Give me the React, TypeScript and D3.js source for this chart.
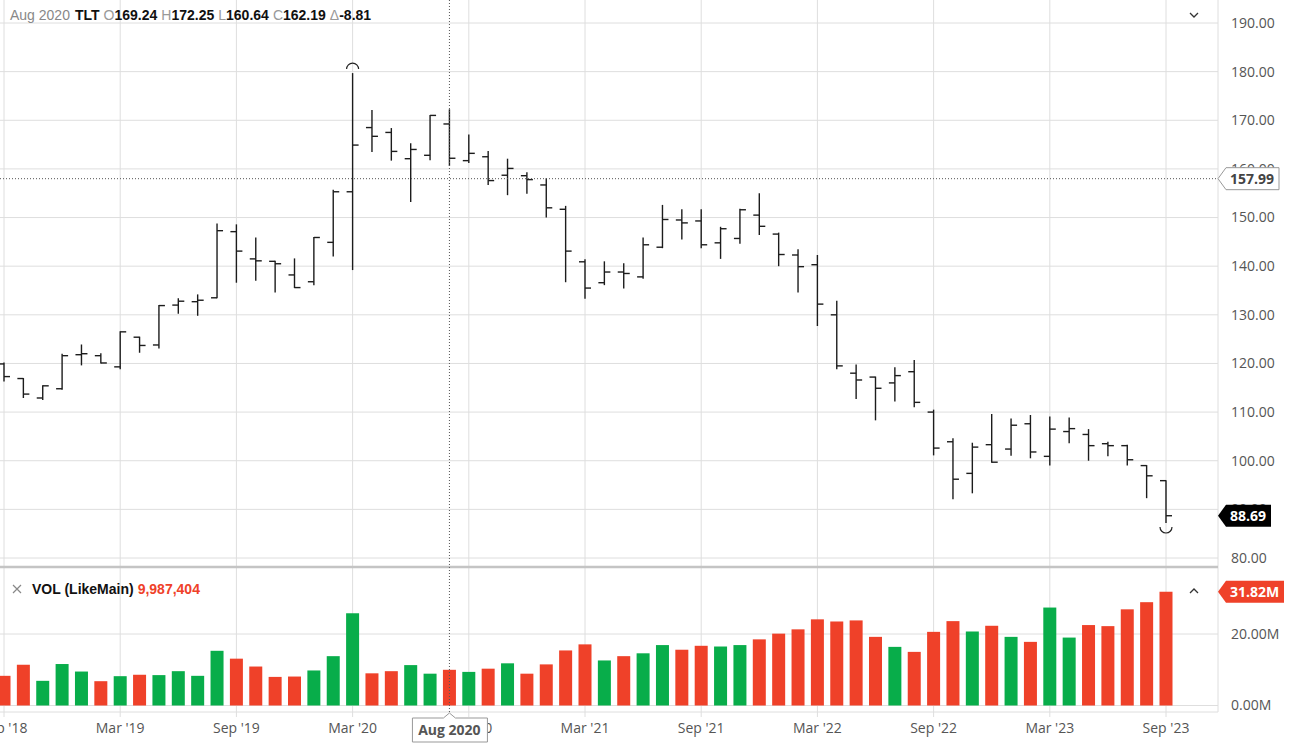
import * as d3 from 'd3';

// Monthly bars, Sep 2018 .. Sep 2023
const months = d3.timeMonths(new Date(2018, 8, 1), new Date(2023, 9, 1));

const opens = [
  119.9, 116.9, 112.9, 114.8, 121.8, 121.6, 119.3, 125.4, 123.8, 132.0, 132.7, 133.5,
  147.1, 141.5, 141.0, 138.2, 136.8, 144.9, 155.3, 168.5, 167.5, 162.1, 162.8, 169.24,
  161.7, 162.5, 158.7, 158.6, 156.7, 151.7, 140.9, 136.6, 138.8, 137.8, 143.9, 149.5,
  149.3, 144.8, 145.7, 150.5, 146.6, 142.3, 140.3, 130.0, 118.0, 117.2, 116.0, 118.3,
  110.0, 103.9, 97.4, 103.3, 102.4, 107.6, 100.9, 106.0, 105.4, 103.5, 103.1, 99.0, 95.9,
];
const highs = [
  120.2, 117.0, 115.5, 122.0, 123.9, 122.1, 126.6, 125.5, 132.0, 133.4, 134.2, 148.8,
  148.6, 145.9, 141.1, 141.6, 146.0, 155.7, 179.7, 172.1, 168.4, 165.3, 171.1, 172.25,
  167.1, 163.7, 162.1, 159.3, 158.1, 152.4, 141.4, 141.0, 140.6, 145.9, 152.6, 151.7,
  151.7, 148.1, 151.8, 155.0, 146.9, 143.5, 142.3, 132.9, 119.8, 117.3, 119.2, 120.7,
  110.5, 104.6, 103.7, 109.6, 108.7, 109.4, 109.1, 108.9, 106.5, 103.9, 103.3, 99.1, 96.0,
];
const lows = [
  116.3, 112.9, 112.5, 114.6, 119.6, 120.0, 118.8, 122.2, 123.1, 130.2, 129.8, 133.4,
  136.6, 137.0, 134.6, 135.5, 136.1, 142.0, 139.2, 163.5, 161.7, 153.2, 161.8, 160.64,
  161.2, 156.7, 154.6, 154.9, 150.0, 136.7, 133.3, 136.1, 135.4, 137.4, 143.7, 145.5,
  143.7, 141.5, 144.6, 146.4, 140.0, 134.6, 127.7, 118.8, 112.7, 108.3, 112.2, 111.0,
  101.1, 92.1, 93.3, 99.6, 101.0, 100.5, 99.0, 103.6, 100.0, 100.9, 99.0, 92.3, 87.2,
];
const closes = [
  117.3, 113.7, 115.4, 121.6, 122.0, 120.1, 126.5, 123.7, 131.9, 132.8, 133.0, 147.3,
  143.1, 141.1, 140.5, 135.6, 145.9, 155.3, 164.9, 166.7, 163.6, 164.0, 171.0, 162.19,
  163.2, 157.6, 160.1, 157.8, 152.0, 143.1, 135.5, 138.8, 138.5, 144.4, 149.6, 148.9,
  144.4, 147.7, 151.6, 148.2, 142.4, 139.9, 132.2, 119.5, 116.6, 114.9, 117.5, 112.0,
  102.6, 96.2, 102.8, 99.7, 107.3, 101.8, 106.5, 106.6, 103.1, 103.1, 100.2, 96.9, 88.69,
];
// volume in millions of shares
const volumes = [
  8.3, 11.4, 6.9, 11.6, 9.5, 6.8, 8.2, 8.6, 8.5, 9.6, 8.3, 15.3,
  13.1, 10.9, 8.0, 8.1, 9.8, 13.8, 25.8, 9.0, 9.6, 11.3, 8.9, 9.987404,
  9.4, 10.3, 11.8, 8.9, 11.5, 15.4, 17.1, 12.6, 13.8, 14.6, 16.9, 15.6,
  16.7, 16.5, 16.9, 18.5, 20.1, 21.3, 24.1, 23.5, 23.8, 19.2, 16.4, 15.0,
  20.6, 23.6, 20.7, 22.3, 19.2, 17.8, 27.4, 19.0, 22.5, 22.2, 26.9, 28.9, 31.82,
];

const priceTicks = [80, 90, 100, 110, 120, 130, 140, 150, 160, 170, 180, 190];
const volTicks = [0, 20];
const hoverIndex = 23; // Aug 2020
const hoverPrice = 157.99;

const RED = '#ef4129';
const GREEN = '#08ad4a';
const GRID = '#dedede';
const FONT = '"Open Sans", "Noto Sans", sans-serif';
const LEGEND_FONT = '"Liberation Sans", Arial, sans-serif';

export default function App() {
  const width = 1300;
  const height = 753;
  const plotRight = 1218;
  const paneSplit = 567;
  const axisBottom = 712;

  const idx = d3.range(months.length);
  const x = d3.scalePoint<number>().domain(idx).range([4, 1166]);
  const y = d3.scaleLinear().domain([80, 190]).range([558, 23]);
  const yv = d3.scaleLinear().domain([0, 20]).range([705.5, 634]);

  const fmtTick = d3.format('.2f');
  const fmtMonth = d3.timeFormat("%b '%y");
  const fmtLong = d3.timeFormat('%b %Y');
  const gridMonths = idx.filter((i) => [2, 8].includes(months[i].getMonth()));

  const hiIdx = d3.maxIndex(highs);
  const loIdx = d3.minIndex(lows);
  const last = months.length - 1;
  const hx = x(hoverIndex) ?? 0;
  const hy = y(hoverPrice);
  const delta = (closes[hoverIndex] - closes[hoverIndex - 1]).toFixed(2);

  const tag = (px: number, py: number, w: number) =>
    `M${px},${py} L${px + 8},${py - 11} L${px + w},${py - 11} L${px + w},${py + 11} L${px + 8},${py + 11} Z`;

  return (
    <svg
      width={width}
      height={height}
      style={{ position: 'absolute', left: 0, top: 0, background: '#fff' }}
      fontFamily={FONT}
    >
      {/* horizontal grid, price pane */}
      {priceTicks.map((t) => (
        <line key={t} x1={0} x2={plotRight} y1={y(t)} y2={y(t)} stroke={GRID} />
      ))}
      {/* horizontal grid, volume pane */}
      {volTicks.map((t) => (
        <line key={t} x1={0} x2={plotRight} y1={yv(t)} y2={yv(t)} stroke={GRID} />
      ))}
      {/* vertical grid */}
      {gridMonths.map((i) => (
        <line key={i} x1={x(i)} x2={x(i)} y1={0} y2={axisBottom + 5} stroke={GRID} />
      ))}
      <line x1={plotRight} x2={plotRight} y1={0} y2={axisBottom} stroke={GRID} />
      <line x1={0} x2={plotRight} y1={axisBottom} y2={axisBottom} stroke={GRID} />
      <line x1={0} x2={plotRight} y1={paneSplit} y2={paneSplit} stroke='#c4c4c4' strokeWidth={2.5} />

      {/* volume bars */}
      {volumes.map((v, i) => (
        <rect
          key={i}
          x={(x(i) ?? 0) - 6.5}
          width={13}
          y={yv(v)}
          height={yv(0) - yv(v)}
          fill={closes[i] >= opens[i] ? GREEN : RED}
        />
      ))}

      {/* OHLC bars */}
      {idx.map((i) => {
        const cx = x(i) ?? 0;
        return (
          <g key={i} stroke='#1c1c1c' strokeWidth={1.4}>
            <line x1={cx} x2={cx} y1={y(highs[i])} y2={y(lows[i])} />
            <line x1={cx - 6} x2={cx} y1={y(opens[i])} y2={y(opens[i])} />
            <line x1={cx} x2={cx + 6} y1={y(closes[i])} y2={y(closes[i])} />
          </g>
        );
      })}

      {/* high / low markers */}
      <path
        d={`M${(x(hiIdx) ?? 0) - 6},${y(highs[hiIdx]) - 4} a6,6 0 0,1 12,0`}
        fill='none'
        stroke='#222'
        strokeWidth={1.2}
      />
      <path
        d={`M${(x(loIdx) ?? 0) - 6},${y(lows[loIdx]) + 4} a6,6 0 0,0 12,0`}
        fill='none'
        stroke='#222'
        strokeWidth={1.2}
      />

      {/* crosshair */}
      <line x1={hx} x2={hx} y1={0} y2={axisBottom} stroke='#555' strokeDasharray='1 2' />
      <line x1={0} x2={plotRight} y1={hy} y2={hy} stroke='#555' strokeDasharray='1 2' />

      {/* price axis */}
      {priceTicks.map((t) => (
        <text key={t} x={1231} y={y(t)} dy='0.35em' fontSize={14} fill='#555'>
          {fmtTick(t)}
        </text>
      ))}
      {/* volume axis */}
      {volTicks.map((t) => (
        <text key={t} x={1231} y={yv(t)} dy='0.35em' fontSize={14} fill='#555'>
          {fmtTick(t)}M
        </text>
      ))}

      {/* time axis labels */}
      {gridMonths.map((i) => (
        <text key={i} x={x(i)} y={733} textAnchor='middle' fontSize={14} fill='#555'>
          {fmtMonth(months[i])}
        </text>
      ))}

      {/* hover price tag */}
      <path d={tag(plotRight, hy, 61)} fill='#fff' stroke='#999' />
      <text x={1230} y={hy} dy='0.35em' fontSize={14} fontWeight='bold' fill='#444'>
        {fmtTick(hoverPrice)}
      </text>
      {/* last price tag */}
      <path d={tag(plotRight, y(closes[last]), 53)} fill='#000' />
      <text x={1230} y={y(closes[last])} dy='0.35em' fontSize={14} fontWeight='bold' fill='#fff'>
        {fmtTick(closes[last])}
      </text>
      {/* last volume tag */}
      <path d={tag(plotRight, yv(volumes[last]), 66)} fill={RED} />
      <text x={1230} y={yv(volumes[last])} dy='0.35em' fontSize={14} fontWeight='bold' fill='#fff'>
        {fmtTick(volumes[last])}M
      </text>

      {/* hover date tag */}
      <path
        d={`M${hx - 37},${718} L${hx - 6},${718} L${hx},${axisBottom + 1} L${hx + 6},${718} L${hx + 38},${718} L${hx + 38},${742} L${hx - 37},${742} Z`}
        fill='#fff'
        stroke='#999'
      />
      <text x={hx} y={735} textAnchor='middle' fontSize={14} fontWeight='bold' fill='#555'>
        {fmtLong(months[hoverIndex])}
      </text>

      {/* legend, price pane */}
      <text x={10} y={20} fontSize={14} fontFamily={LEGEND_FONT}>
        <tspan fill='#888'>{fmtLong(months[hoverIndex])}</tspan>
        <tspan fill='#111' fontWeight='bold' dx={5}>TLT</tspan>
        <tspan fill='#999' dx={4}>O</tspan>
        <tspan fill='#111' fontWeight='bold'>{fmtTick(opens[hoverIndex])}</tspan>
        <tspan fill='#999' dx={4}>H</tspan>
        <tspan fill='#111' fontWeight='bold'>{fmtTick(highs[hoverIndex])}</tspan>
        <tspan fill='#999' dx={4}>L</tspan>
        <tspan fill='#111' fontWeight='bold'>{fmtTick(lows[hoverIndex])}</tspan>
        <tspan fill='#999' dx={4}>C</tspan>
        <tspan fill='#111' fontWeight='bold'>{fmtTick(closes[hoverIndex])}</tspan>
        <tspan fill='#999' dx={4}>Δ</tspan>
        <tspan fill='#111' fontWeight='bold'>{delta}</tspan>
      </text>
      <path d='M1190,13 L1194,17 L1198,13' fill='none' stroke='#333' strokeWidth={1.3} />

      {/* legend, volume pane */}
      <path d='M13,585 L21,593 M21,585 L13,593' stroke='#888' strokeWidth={1.2} />
      <text x={32} y={594} fontSize={14} fontWeight='bold' fontFamily={LEGEND_FONT}>
        <tspan fill='#111'>VOL (LikeMain)</tspan>
        <tspan fill={RED} dx={4}>{d3.format(',')(Math.round(volumes[hoverIndex] * 1e6))}</tspan>
      </text>
      <path d='M1190,593 L1194,589 L1198,593' fill='none' stroke='#333' strokeWidth={1.3} />
    </svg>
  );
}
